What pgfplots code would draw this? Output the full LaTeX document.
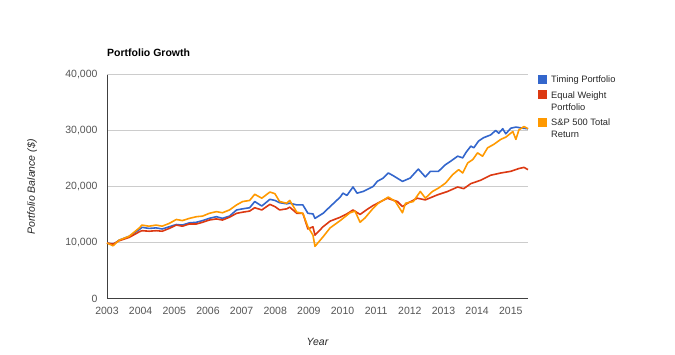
\documentclass[border=0pt]{standalone}
\usepackage{fontspec}
\setmainfont{Liberation Sans}
\usepackage{pgfplots}
\usepackage{pgfplotstable}
\pgfplotsset{compat=1.18}
\definecolor{tBlue}{HTML}{3366CC}
\definecolor{tRed}{HTML}{DC3912}
\definecolor{tOrange}{HTML}{FF9900}
\definecolor{tickgray}{HTML}{555555}

\pgfplotstableread{
x y
2003.00 10000
2003.18 9700
2003.36 10500
2003.66 11200
2003.96 12400
2004.04 12800
2004.25 12600
2004.46 12700
2004.64 12500
2004.85 12900
2005.06 13300
2005.24 13200
2005.45 13600
2005.66 13700
2005.84 14000
2006.04 14400
2006.25 14700
2006.43 14400
2006.64 14800
2006.85 15900
2007.03 16100
2007.24 16300
2007.39 17400
2007.60 16600
2007.84 17800
2007.99 17600
2008.13 17200
2008.34 17000
2008.43 17100
2008.64 16800
2008.82 16800
2008.97 15300
2009.12 15200
2009.18 14400
2009.42 15300
2009.63 16500
2009.93 18200
2010.01 18900
2010.13 18500
2010.31 20000
2010.43 18900
2010.61 19200
2010.91 20100
2011.03 21000
2011.21 21600
2011.36 22500
2011.51 22000
2011.78 21000
2012.01 21600
2012.25 23200
2012.40 22200
2012.46 21800
2012.61 22800
2012.85 22800
2013.06 24000
2013.21 24600
2013.42 25500
2013.57 25200
2013.66 26100
2013.81 27300
2013.90 27000
2014.04 28200
2014.19 28800
2014.40 29300
2014.55 30100
2014.64 29600
2014.76 30400
2014.85 29500
2015.00 30500
2015.15 30700
2015.36 30500
2015.51 30400
}\timing

\pgfplotstableread{
x y
2003.00 10000
2003.18 9800
2003.36 10400
2003.66 11000
2003.96 12000
2004.04 12200
2004.25 12100
2004.46 12200
2004.64 12100
2004.85 12600
2005.06 13200
2005.24 13000
2005.45 13400
2005.66 13400
2005.84 13700
2006.04 14100
2006.25 14300
2006.43 14100
2006.64 14600
2006.85 15300
2007.03 15500
2007.24 15700
2007.39 16300
2007.60 15900
2007.84 16900
2007.99 16500
2008.13 15900
2008.34 16100
2008.43 16400
2008.64 15300
2008.82 15300
2008.97 12500
2009.12 12900
2009.18 11400
2009.42 12900
2009.63 13900
2009.93 14600
2010.13 15200
2010.31 15900
2010.52 15100
2010.73 16000
2010.91 16700
2011.33 18000
2011.63 17400
2011.78 16500
2011.93 17100
2012.22 18000
2012.46 17700
2012.82 18600
2013.12 19200
2013.42 20000
2013.60 19700
2013.81 20600
2014.10 21200
2014.40 22100
2014.70 22500
2015.00 22800
2015.24 23300
2015.39 23500
2015.51 23100
}\equalw

\pgfplotstableread{
x y
2003.00 10000
2003.18 9500
2003.36 10500
2003.66 11200
2003.96 12700
2004.04 13200
2004.25 13000
2004.46 13200
2004.64 13000
2004.85 13500
2005.06 14200
2005.24 14000
2005.45 14400
2005.66 14700
2005.84 14800
2006.04 15300
2006.25 15600
2006.43 15400
2006.64 15900
2006.85 16800
2007.03 17400
2007.24 17600
2007.39 18700
2007.60 18000
2007.84 19100
2007.99 18800
2008.13 17400
2008.34 17100
2008.43 17600
2008.64 15500
2008.82 15300
2008.97 12900
2009.12 11400
2009.18 9400
2009.42 11100
2009.63 12700
2009.93 14000
2010.22 15400
2010.37 15700
2010.52 13700
2010.67 14500
2010.88 16000
2011.06 17100
2011.36 18200
2011.57 17400
2011.78 15400
2011.87 17100
2012.10 17400
2012.31 19200
2012.46 18000
2012.67 19200
2012.85 19800
2013.06 20700
2013.27 22200
2013.45 23100
2013.57 22500
2013.72 24300
2013.87 24900
2014.01 26100
2014.16 25500
2014.31 27000
2014.49 27600
2014.70 28500
2014.85 28900
2015.06 29900
2015.15 28500
2015.24 30200
2015.39 30800
2015.51 30400
}\sandp

\begin{document}
\begin{tikzpicture}[x=1pt,y=1pt]
\path[use as bounding box] (0,0) rectangle (675,355);
\begin{axis}[
  at={(107pt,56pt)}, anchor=south west,
  scale only axis, width=421pt, height=224pt,
  xmin=2003, xmax=2015.51, ymin=0, ymax=40000,
  axis x line*=bottom, axis y line*=left,
  axis line style={-, draw=black!75, line width=1pt},
  xtick={2003,2004,...,2015},
  ytick={0,10000,20000,30000,40000},
  scaled x ticks=false, scaled y ticks=false,
  major tick length=0pt,
  ymajorgrids, grid style={draw=black!20, line width=1pt},
  /pgf/number format/assume math mode=true,
  tick label style={font=\fontsize{10.5}{12}\selectfont, text=tickgray},
  x tick label style={/pgf/number format/.cd, 1000 sep={}, /tikz/.cd, yshift=-5pt},
  y tick label style={/pgf/number format/.cd, fixed, 1000 sep={,}, /tikz/.cd, xshift=-6pt},
  clip=false,
]
\addplot[tBlue, line width=1.6pt, line join=round] table[x=x,y=y] {\timing};
\addplot[tRed, line width=1.6pt, line join=round] table[x=x,y=y] {\equalw};
\addplot[tOrange, line width=1.6pt, line join=round] table[x=x,y=y] {\sandp};
\end{axis}
% title
\node[anchor=base west, inner sep=0, font=\fontsize{10.5}{12}\selectfont\bfseries] at (107,298) {Portfolio Growth};
% axis titles
\node[rotate=90, inner sep=0, font=\fontsize{10.5}{12}\selectfont\itshape, text=black!85] at (32,168) {Portfolio Balance (\$)};
\node[anchor=base, inner sep=0, font=\fontsize{10.5}{12}\selectfont\itshape, text=black!85] at (317.5,9) {Year};
% legend
\fill[tBlue] (538,271) rectangle (547,280);
\fill[tRed] (538,256) rectangle (547,265);
\fill[tOrange] (538,227.7) rectangle (547,236.7);
\begin{scope}[every node/.style={anchor=base west, inner sep=0, font=\fontsize{9.3}{11}\selectfont, text=black!85}]
\node at (551,272.2) {Timing Portfolio};
\node at (551,256.5) {Equal Weight};
\node at (551,244.8) {Portfolio};
\node at (551,229.2) {S\&P 500 Total};
\node at (551,217.5) {Return};
\end{scope}
\end{tikzpicture}
\end{document}
